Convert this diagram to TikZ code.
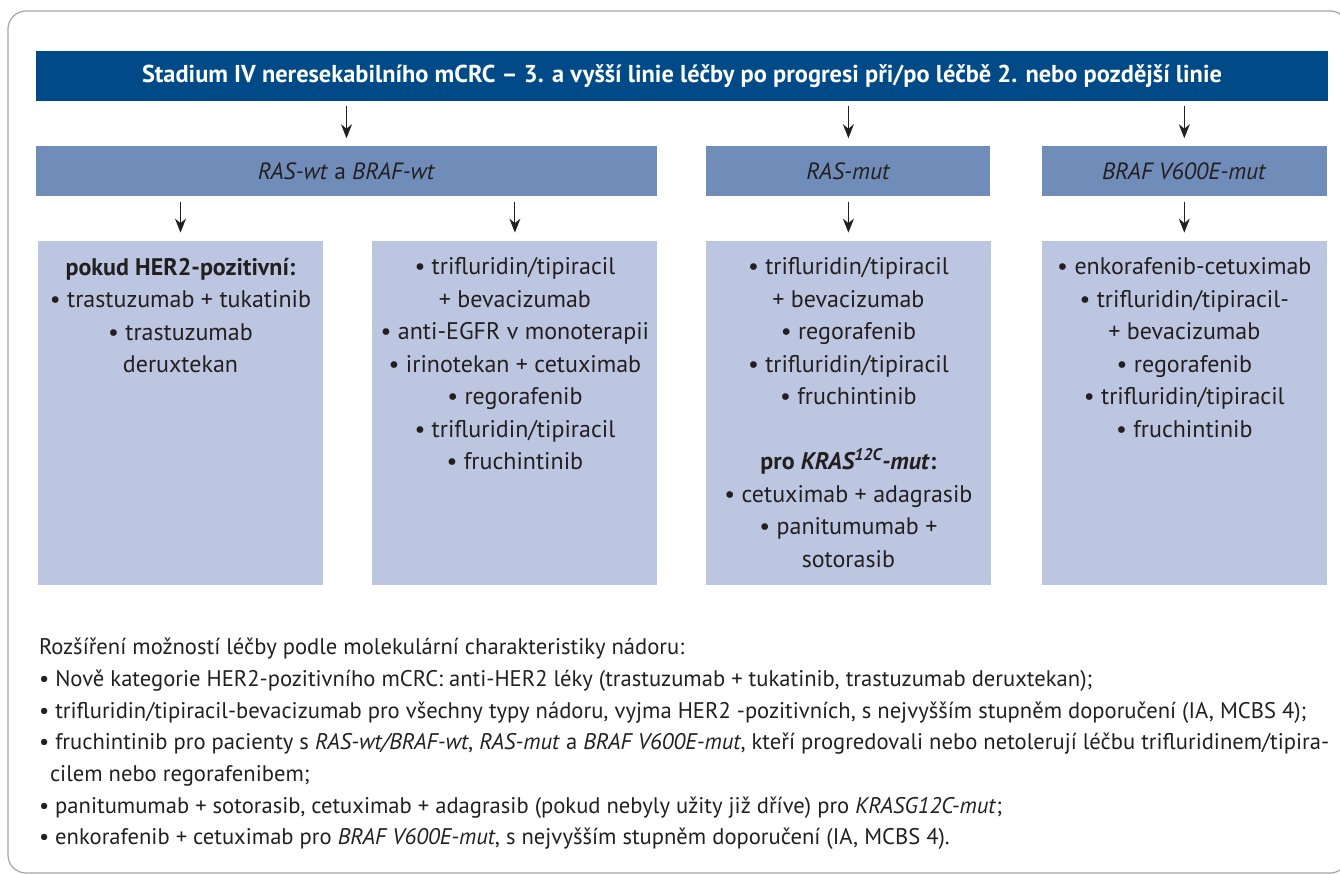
\documentclass[tikz,border=0pt]{standalone}
\usepackage{fontspec}
\setmainfont{PT Sans}
\usetikzlibrary{positioning, arrows.meta}

\definecolor{titleblue}{RGB}{0,75,135}
\definecolor{midblue}{RGB}{112,140,185}
\definecolor{lightblue}{RGB}{188,198,224}
\definecolor{textgray}{RGB}{35,31,32}
\definecolor{framegray}{RGB}{165,165,165}

\begin{document}
\begin{tikzpicture}[x=1pt, y=-1pt, >={Stealth[length=14pt, width=11pt]}, node distance=44pt,
    headbar/.style={fill=titleblue, text=white, font=\fontsize{24.4}{28}\selectfont\bfseries, minimum width=1292pt, minimum height=50pt, inner sep=0pt},
    groupbar/.style={fill=midblue, text=textgray, font=\fontsize{23.5}{28}\selectfont, minimum height=50pt, inner sep=0pt},
    listbox/.style={fill=lightblue, minimum width=285pt, minimum height=344pt, inner sep=0pt},
    listtext/.style={text=textgray, align=center, font=\fontsize{24}{32.5}\selectfont, inner sep=0pt},
    notetext/.style={text=textgray, align=left, font=\fontsize{22.6}{31.7}\selectfont, inner sep=0pt},
    arrow/.style={->, textgray, line width=1.1pt, shorten <=5pt, shorten >=8pt}]
    \clip (0,0) rectangle (1340,873);
    \draw[framegray, line width=1.2pt, rounded corners=18pt] (8,11) rectangle (1348,873);

    \node (head) [headbar] at (682,76) {Stadium IV neresekabilního mCRC – 3. a vyšší linie léčby po progresi při/po léčbě 2. nebo pozdější linie};
    \node (raswt) [groupbar, minimum width=621pt, below=45pt of head.south west, anchor=north west] {\textit{RAS-wt} a \textit{BRAF-wt}};
    \node (rasmut) [groupbar, minimum width=284pt, right=49pt of raswt] {\textit{RAS-mut}};
    \node (braf) [groupbar, minimum width=285pt, right=51pt of rasmut] {\textit{BRAF V600E-mut}};

    \node (her2) [listbox, below=44pt of raswt.south west, anchor=north west, xshift=2pt] {};
    \node (chemo) [listbox, right=49pt of her2] {};
    \node (rasmutlist) [listbox, below=of rasmut] {};
    \node (braflist) [listbox, below=of braf] {};

    \node (her2txt) [listtext, below=17pt of her2.north] {\textbf{pokud HER2-pozitivní:}\\• trastuzumab + tukatinib\\• trastuzumab\\deruxtekan};
    \node (chemotxt) [listtext, below=17pt of chemo.north] {• trifluridin/tipiracil\\+ bevacizumab\\• anti-EGFR v monoterapii\\• irinotekan + cetuximab\\• regorafenib\\• trifluridin/tipiracil\\• fruchintinib};
    \node (rasmuttxt) [listtext, below=17pt of rasmutlist.north] {• trifluridin/tipiracil\\+ bevacizumab\\• regorafenib\\• trifluridin/tipiracil\\• fruchintinib\\[32.5pt]\textbf{pro \textit{KRAS\textsuperscript{12C}-mut}:}\\• cetuximab + adagrasib\\• panitumumab +\\sotorasib};
    \node (braftxt) [listtext, below=17pt of braflist.north] {• enkorafenib-cetuximab\\• trifluridin/tipiracil-\\+ bevacizumab\\• regorafenib\\• trifluridin/tipiracil\\• fruchintinib};

    \path[arrow]
        (head.south -| raswt) edge (raswt)
        (head.south -| rasmut) edge (rasmut)
        (head.south -| braf) edge (braf)
        (raswt.south -| her2) edge (her2)
        (raswt.south -| chemo) edge (chemo)
        (rasmut.south) edge (rasmutlist)
        (braf.south) edge (braflist);

    \node (notes) [notetext, below=53pt of her2.south west, anchor=north west, xshift=1pt] {Rozšíření možností léčby podle molekulární charakteristiky nádoru:\\
        • Nově kategorie HER2-pozitivního mCRC: anti-HER2 léky (trastuzumab + tukatinib, trastuzumab deruxtekan);\\
        • trifluridin/tipiracil-bevacizumab pro všechny typy nádoru, vyjma HER2 -pozitivních, s nejvyšším stupněm doporučení (IA, MCBS 4);\\
        • fruchintinib pro pacienty s \textit{RAS-wt/BRAF-wt}, \textit{RAS-mut} a \textit{BRAF V600E-mut}, kteří progredovali nebo netolerují léčbu trifluridinem/tipira-\\
        \hspace*{11pt}cilem nebo regorafenibem;\\
        • panitumumab + sotorasib, cetuximab + adagrasib (pokud nebyly užity již dříve) pro \textit{KRASG12C-mut};\\
        • enkorafenib + cetuximab pro \textit{BRAF V600E-mut}, s nejvyšším stupněm doporučení (IA, MCBS 4).};
\end{tikzpicture}
\end{document}
